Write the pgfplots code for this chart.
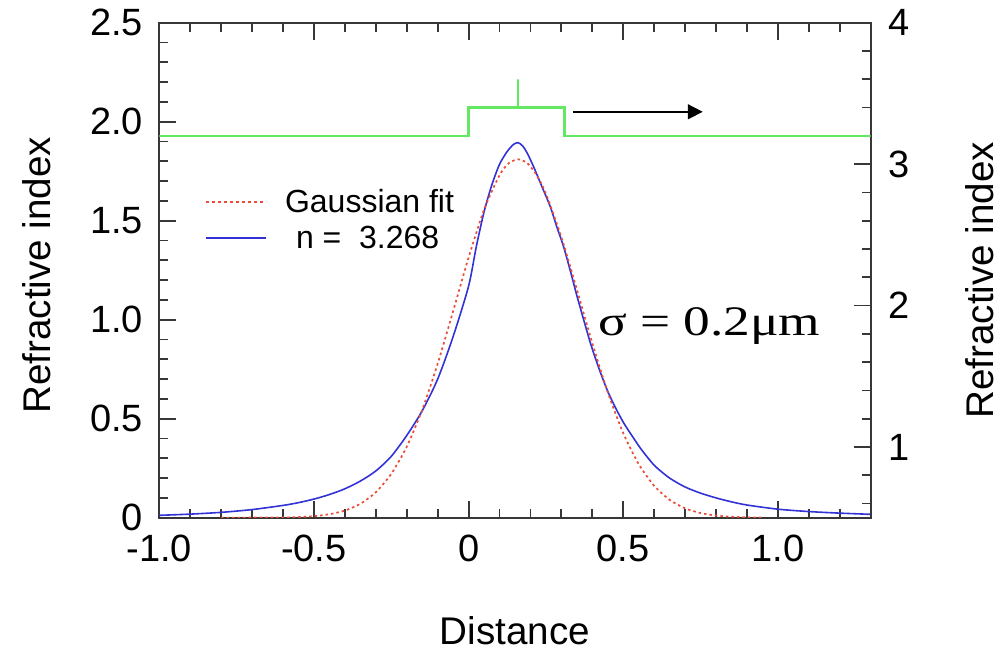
\documentclass[border=0pt]{standalone}
\usepackage{pgfplots}
\pgfplotsset{compat=1.18}
\usepackage{graphicx}
\usepackage{fontspec}
\setmainfont{Liberation Sans}
\newfontfamily\serifgr{Liberation Serif}
\usetikzlibrary{arrows.meta}
\definecolor{gline}{RGB}{100,232,100}
\definecolor{bline}{RGB}{50,50,215}
\definecolor{rline}{RGB}{235,75,55}
\definecolor{axc}{RGB}{55,55,55}

\pgfplotstableread{
x y
-1.00 0.012
-0.90 0.018
-0.80 0.027
-0.70 0.041
-0.60 0.062
-0.55 0.076
-0.50 0.094
-0.45 0.117
-0.40 0.146
-0.35 0.185
-0.30 0.236
-0.25 0.310
-0.20 0.415
-0.15 0.540
-0.10 0.700
-0.05 0.915
0.000 1.170
0.025 1.370
0.050 1.545
0.075 1.680
0.100 1.785
0.125 1.850
0.145 1.885
0.160 1.894
0.175 1.877
0.190 1.840
0.210 1.773
0.235 1.680
0.264 1.571
0.285 1.470
0.307 1.369
0.330 1.240
0.351 1.116
0.372 1.000
0.394 0.881
0.420 0.760
0.448 0.645
0.475 0.555
0.502 0.477
0.530 0.410
0.556 0.350
0.600 0.265
0.650 0.200
0.700 0.155
0.750 0.124
0.800 0.100
0.850 0.080
0.900 0.064
1.000 0.043
1.100 0.031
1.200 0.023
1.300 0.017
}\bluedata

\pgfplotstableread{
x y
-0.80 0.000
-0.60 0.0013
-0.55 0.0033
-0.50 0.0078
-0.45 0.0173
-0.40 0.0359
-0.35 0.0701
-0.30 0.1285
-0.25 0.2214
-0.20 0.3582
-0.15 0.5446
-0.10 0.7776
-0.05 1.0433
0.00 1.3143
0.05 1.5563
0.10 1.7303
0.13 1.7905
0.16 1.8100
0.19 1.7905
0.22 1.7303
0.25 1.6361
0.30 1.4167
0.35 1.1530
0.40 0.8811
0.45 0.6328
0.50 0.4267
0.55 0.2704
0.60 0.1609
0.65 0.0900
0.70 0.0473
0.75 0.0233
0.80 0.0108
0.85 0.0047
0.90 0.0019
0.95 0.0007
}\reddata

\begin{document}
\begin{tikzpicture}
\path[use as bounding box] (0,0) rectangle (1004pt,652pt);
\pgfplotsset{
  common/.style={
    scale only axis, width=711.4pt, height=495pt,
    at={(159.3pt,134.3pt)}, anchor=south west,
    xmin=-1, xmax=1.3,
    axis line style={axc, line width=2pt},
    every tick/.style={axc, line width=1.8pt},
    tick align=inside,
    major tick length=17pt, minor tick length=9pt,
    tick label style={font=\fontsize{38}{44}\selectfont, inner sep=0pt},
    label style={font=\fontsize{38.6}{44}\selectfont, inner sep=0pt},
  }
}
\begin{axis}[common,
  ymin=0, ymax=2.5,
  xtick={-1,-0.5,0,0.5,1}, xticklabels={-1.0,-0.5,0,0.5,1.0},
  minor xtick={-1,-0.9,-0.8,-0.7,-0.6,-0.4,-0.3,-0.2,-0.1,0.1,0.2,0.3,0.4,0.6,0.7,0.8,0.9,1.1,1.2,1.3},
  ytick={0,0.5,1,1.5,2,2.5}, yticklabels={0,0.5,1.0,1.5,2.0,2.5},
  minor ytick={0.1,0.2,0.3,0.4,0.6,0.7,0.8,0.9,1.1,1.2,1.3,1.4,1.6,1.7,1.8,1.9,2.1,2.2,2.3,2.4},
  xtick pos=both, ytick pos=left, xticklabel pos=lower,
  xticklabel style={yshift=-17pt},
  yticklabel style={xshift=-16pt},
  xlabel={Distance}, ylabel={Refractive index},
  xlabel style={at={(rel axis cs:0.5,-0.256)}, anchor=base},
  ylabel style={at={(rel axis cs:-0.1536,0.49)}, anchor=base},
  legend style={draw=none, fill=none, at={(0.064,0.664)}, anchor=north west,
    inner sep=0pt, font=\fontsize{32}{36}\selectfont, row sep=12pt,
    nodes={inner sep=0pt, inner xsep=18pt}},
  legend cell align=left,
  legend image code/.code={\draw[#1] (0pt,0pt) -- (60pt,0pt);},
]
\addplot[bline, line width=1.6pt, smooth, tension=0.45, forget plot] table[x=x,y=y] {\bluedata};
\addplot[rline, line width=1.7pt, dash pattern=on 2.5pt off 3pt, smooth, tension=0.4, forget plot] table[x=x,y=y] {\reddata};
\addlegendimage{rline, line width=2pt, dash pattern=on 3pt off 3pt}
\addlegendentry{Gaussian fit}
\addlegendimage{bline, line width=1.6pt}
\addlegendentry{\hspace{11pt}n =\ \ 3.268}
\node[anchor=base west, inner sep=0pt] at (rel axis cs:0.6167,0.369)
  {\scalebox{1.27}[1]{\fontsize{42}{48}\serifgr σ = 0.2μm}};
\end{axis}
\begin{axis}[common,
  ymin=0.5, ymax=4,
  hide x axis,
  axis y line*=right,
  ytick={1,2,3,4}, yticklabels={1,2,3,4},
  minor ytick={0.6,0.8,1.2,1.4,1.6,1.8,2.2,2.4,2.6,2.8,3.2,3.4,3.6,3.8},
  yticklabel style={xshift=18pt, font=\fontsize{38}{44}\selectfont},
  ylabel={Refractive index},
  ylabel style={at={(rel axis cs:1.1725,0.48)}, anchor=base},
]
\addplot[gline, line width=2.6pt] coordinates {(-1.0,3.2) (0,3.2) (0,3.4) (0.16,3.4) (0.16,3.6) (0.16,3.4) (0.31,3.4) (0.31,3.2) (1.3,3.2)};
\addplot[black, line width=1.5pt, -{Triangle[length=15pt,width=15pt]}] coordinates {(0.337,3.37) (0.757,3.37)};
\end{axis}
\end{tikzpicture}
\end{document}
